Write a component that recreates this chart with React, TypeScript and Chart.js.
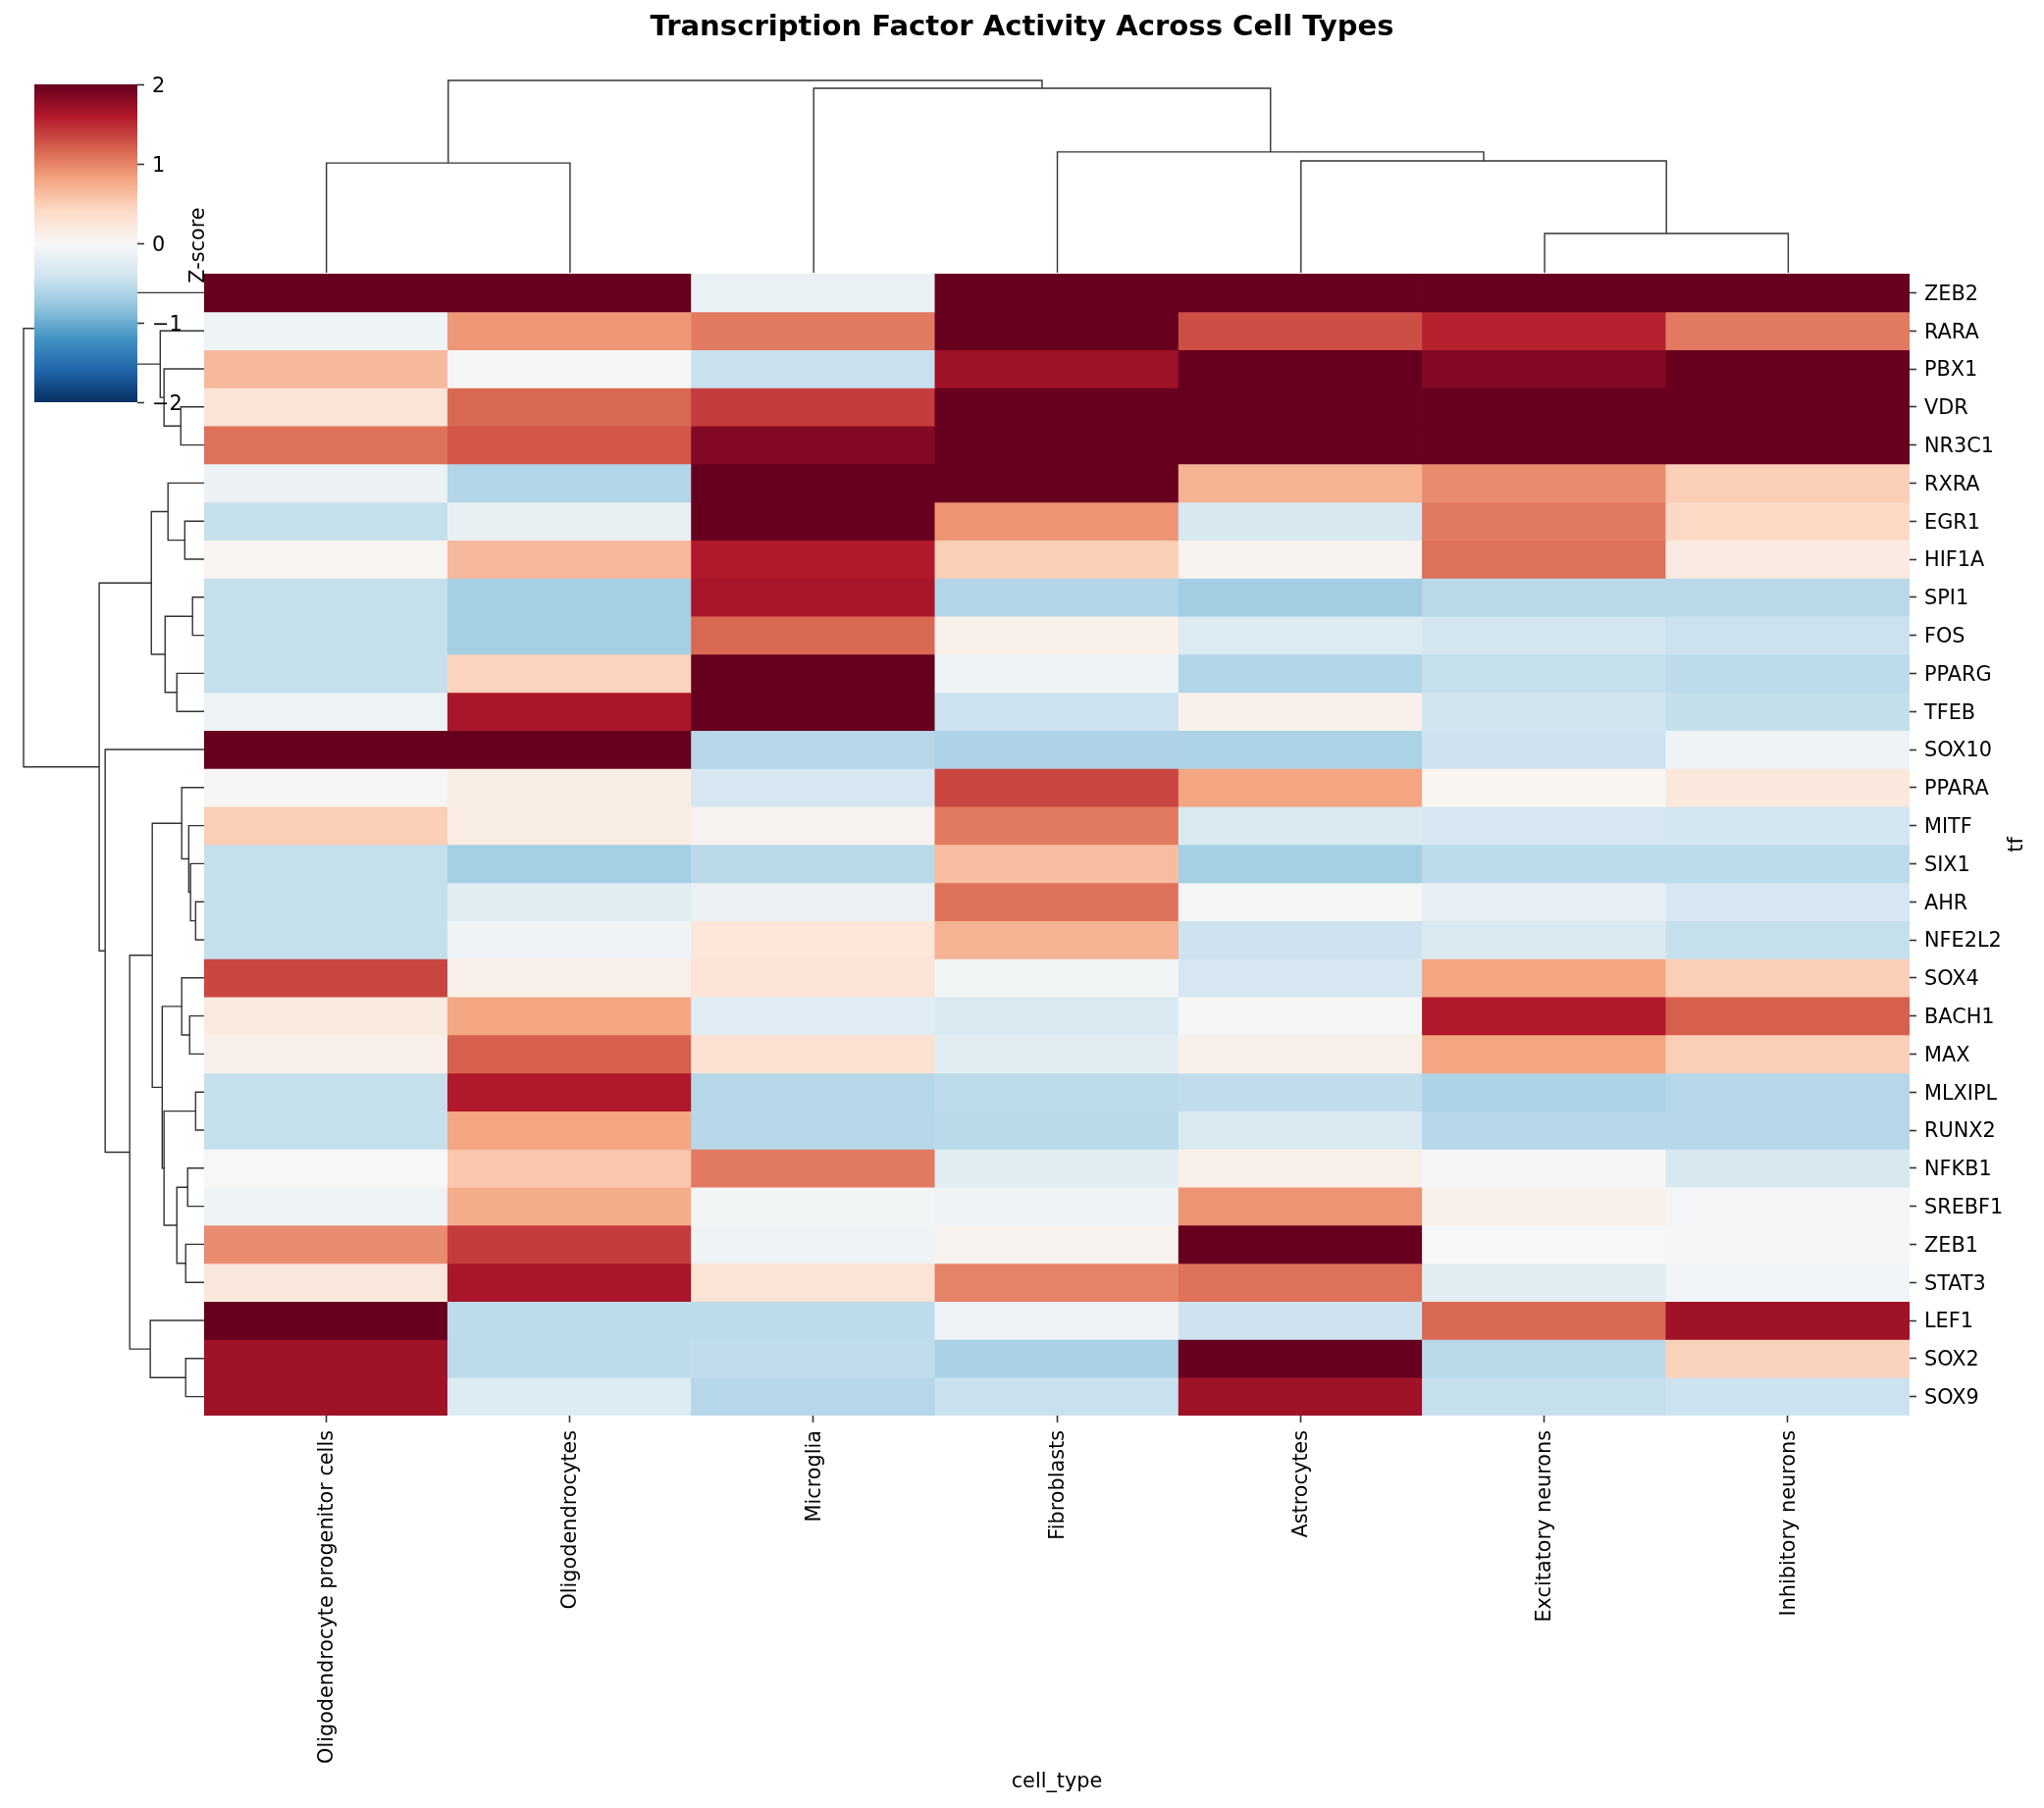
import { useEffect, useRef } from 'react';
import { Chart, registerables } from 'chart.js';

Chart.register(...registerables);
Chart.defaults.font.family = "'DejaVu Sans'";
Chart.defaults.color = '#000000';

const WIDTH = 2083;
const HEIGHT = 1843;
const TEXT_SIZE = 20.8;
const LINE_COLOR = '#333333';

const cellTypes = [
  'Oligodendrocyte progenitor cells',
  'Oligodendrocytes',
  'Microglia',
  'Fibroblasts',
  'Astrocytes',
  'Excitatory neurons',
  'Inhibitory neurons',
];

const tfs = [
  'ZEB2', 'RARA', 'PBX1', 'VDR', 'NR3C1', 'RXRA', 'EGR1', 'HIF1A', 'SPI1', 'FOS',
  'PPARG', 'TFEB', 'SOX10', 'PPARA', 'MITF', 'SIX1', 'AHR', 'NFE2L2', 'SOX4', 'BACH1',
  'MAX', 'MLXIPL', 'RUNX2', 'NFKB1', 'SREBF1', 'ZEB1', 'STAT3', 'LEF1', 'SOX2', 'SOX9',
];

// one row per tf, same order as cellTypes
const zScores = [
  [2, 2, -0.14, 2, 2, 2, 2],
  [-0.1, 0.88, 1.05, 2, 1.3, 1.55, 1.05],
  [0.65, -0.03, -0.45, 1.7, 2, 1.85, 2],
  [0.27, 1.15, 1.4, 2, 2, 2, 2],
  [1.1, 1.25, 1.85, 2, 2, 2, 2],
  [-0.13, -0.6, 2, 2, 0.7, 0.95, 0.5],
  [-0.47, -0.15, 2, 0.9, -0.33, 1.05, 0.42],
  [0.04, 0.65, 1.6, 0.5, 0.06, 1.1, 0.18],
  [-0.47, -0.68, 1.65, -0.6, -0.7, -0.55, -0.55],
  [-0.47, -0.68, 1.15, 0.12, -0.28, -0.38, -0.43],
  [-0.47, 0.45, 2, -0.1, -0.6, -0.47, -0.52],
  [-0.12, 1.65, 2, -0.43, 0.1, -0.4, -0.48],
  [2, 2, -0.58, -0.62, -0.64, -0.42, -0.1],
  [0.03, 0.15, -0.35, 1.35, 0.8, 0.05, 0.22],
  [0.5, 0.15, 0.06, 1.05, -0.32, -0.35, -0.37],
  [-0.47, -0.68, -0.55, 0.62, -0.68, -0.52, -0.52],
  [-0.47, -0.22, -0.13, 1.1, -0.03, -0.17, -0.35],
  [-0.47, -0.08, 0.25, 0.7, -0.42, -0.3, -0.47],
  [1.35, 0.12, 0.27, -0.05, -0.35, 0.8, 0.5],
  [0.2, 0.8, -0.25, -0.3, -0.03, 1.6, 1.2],
  [0.1, 1.2, 0.3, -0.22, 0.12, 0.8, 0.5],
  [-0.47, 1.6, -0.58, -0.52, -0.5, -0.63, -0.57],
  [-0.47, 0.8, -0.58, -0.55, -0.32, -0.58, -0.57],
  [0, 0.55, 1.05, -0.22, 0.12, -0.03, -0.33],
  [-0.1, 0.75, -0.05, -0.08, 0.9, 0.1, -0.04],
  [0.95, 1.4, -0.08, 0.07, 2, -0.01, -0.02],
  [0.23, 1.65, 0.28, 1, 1.1, -0.23, -0.07],
  [2, -0.52, -0.52, -0.08, -0.42, 1.15, 1.7],
  [1.7, -0.52, -0.5, -0.65, 2, -0.55, 0.47],
  [1.7, -0.27, -0.58, -0.45, 1.7, -0.47, -0.43],
];

// linkage tables: [left child, right child, height], ids past the leaves are earlier merges
const rowMerges = [
  [16, 17, 0.047], [15, 30, 0.075], [14, 31, 0.085], [13, 32, 0.124], [19, 20, 0.08],
  [18, 34, 0.124], [21, 22, 0.047], [23, 24, 0.091], [25, 26, 0.102], [37, 38, 0.151],
  [36, 39, 0.222], [35, 40, 0.232], [33, 41, 0.287], [28, 29, 0.102], [27, 43, 0.298],
  [42, 44, 0.412], [12, 45, 0.548], [6, 7, 0.107], [5, 47, 0.2], [8, 9, 0.064],
  [10, 11, 0.151], [49, 50, 0.216], [48, 51, 0.292], [52, 46, 0.581], [3, 4, 0.129],
  [2, 54, 0.222], [1, 55, 0.243], [0, 56, 0.588], [57, 53, 1],
];

const colMerges = [
  [5, 6, 0.204], [4, 7, 0.582], [3, 8, 0.628], [2, 9, 0.959], [0, 1, 0.571], [11, 10, 1],
];

const colorbarTicks = [-2, -1, 0, 1, 2];
const rdBuR = ['#053061', '#2166ac', '#4393c3', '#92c5de', '#d1e5f0', '#f7f7f7', '#fddbc7', '#f4a582', '#d6604d', '#b2182b', '#67001f'];

function zColor(z: number) {
  const t = (Math.max(-2, Math.min(2, z)) + 2) / 4 * (rdBuR.length - 1);
  const i = Math.min(Math.floor(t), rdBuR.length - 2);
  const f = t - i;
  const rgb = [1, 3, 5].map(k => {
    const a = parseInt(rdBuR[i].slice(k, k + 2), 16);
    const b = parseInt(rdBuR[i + 1].slice(k, k + 2), 16);
    return Math.round(a + (b - a) * f);
  });
  return `rgb(${rgb.join(',')})`;
}

// turn a linkage table into one U shaped line per merge
function dendrogram(merges: number[][], leaves: number, horizontal: boolean) {
  const pos: number[] = [];
  const height: number[] = [];
  for (let i = 0; i < leaves; i++) {
    pos.push(i + 0.5);
    height.push(0);
  }
  return merges.map(([a, b, h]) => {
    const path = [[height[a], pos[a]], [h, pos[a]], [h, pos[b]], [height[b], pos[b]]];
    pos.push((pos[a] + pos[b]) / 2);
    height.push(h);
    return {
      data: path.map(([d, p]) => (horizontal ? { x: d, y: p } : { x: p, y: d })),
      showLine: true,
      borderColor: LINE_COLOR,
      borderWidth: 1.4,
      pointRadius: 0,
      tension: 0,
      clip: false as const,
    };
  });
}

// rotated axis captions, the ones chart.js would turn the other way
const sideLabel = (text: string, x: number, y: number, baseline: CanvasTextBaseline) => ({
  id: 'sideLabel',
  afterDraw(chart: Chart) {
    const { ctx } = chart;
    ctx.save();
    ctx.translate(x, y);
    ctx.rotate(-Math.PI / 2);
    ctx.font = `${TEXT_SIZE}px 'DejaVu Sans'`;
    ctx.fillStyle = '#000000';
    ctx.textAlign = 'center';
    ctx.textBaseline = baseline;
    ctx.fillText(text, 0, 0);
    ctx.restore();
  },
});

const common = {
  responsive: false,
  devicePixelRatio: 1,
  animation: false as const,
  events: [],
};
const noLegend = { legend: { display: false }, tooltip: { enabled: false } };
const tickGrid = { drawOnChartArea: false, tickLength: 7, tickWidth: 1.6, color: LINE_COLOR };

const heatmapConfig: any = {
  type: 'bar',
  data: {
    labels: cellTypes,
    datasets: tfs.map((_, r) => ({
      data: cellTypes.map(() => [r, r + 1]),
      backgroundColor: zScores[r].map(zColor),
      borderWidth: 0,
      barPercentage: 1,
      categoryPercentage: 1,
    })),
  },
  options: {
    ...common,
    layout: { autoPadding: false },
    plugins: {
      ...noLegend,
      title: {
        display: true,
        text: 'Transcription Factor Activity Across Cell Types',
        font: { size: 29.1, weight: 'bold', lineHeight: 1.2 },
        color: '#000000',
        padding: { top: 11, bottom: 233.1 },
      },
    },
    scales: {
      x: {
        type: 'category',
        stacked: true,
        grid: { ...tickGrid, offset: false },
        border: { display: false },
        ticks: { minRotation: 90, maxRotation: 90, autoSkip: false, padding: 8, labelOffset: 1.5, font: { size: TEXT_SIZE } },
        title: { display: true, text: 'cell_type', font: { size: TEXT_SIZE }, padding: { top: 0, bottom: 13.5 } },
        afterFit: (s: any) => { s.height = 400; },
      },
      y: {
        type: 'linear',
        position: 'right',
        reverse: true,
        min: 0,
        max: 30,
        stacked: false,
        grid: tickGrid,
        border: { display: false },
        ticks: { autoSkip: false, padding: 8, labelOffset: 2, font: { size: TEXT_SIZE }, callback: (_v: any, i: number) => tfs[i] },
        afterBuildTicks: (s: any) => { s.ticks = tfs.map((_, i) => ({ value: i + 0.5 })); },
        afterFit: (s: any) => { s.width = 137; },
      },
      // empty left gutter so the title stays centred on the whole figure
      gutter: {
        type: 'linear',
        axis: 'y',
        position: 'left',
        grid: { display: false },
        border: { display: false },
        ticks: { display: false },
        afterFit: (s: any) => { s.width = 208; },
      },
    },
  },
  plugins: [sideLabel('tf', 2056, 861, 'middle')],
};

const colDendroConfig: any = {
  type: 'scatter',
  data: { datasets: dendrogram(colMerges, cellTypes.length, false) },
  options: {
    ...common,
    layout: { autoPadding: false, padding: { left: 208.5, right: 136.5, top: 82, bottom: HEIGHT - 278 } },
    plugins: noLegend,
    scales: {
      x: { type: 'linear', min: 0, max: cellTypes.length, display: false },
      y: { type: 'linear', min: 0, max: 1, display: false },
    },
  },
};

const rowDendroConfig: any = {
  type: 'scatter',
  data: { datasets: dendrogram(rowMerges, tfs.length, true) },
  options: {
    ...common,
    layout: { autoPadding: false, padding: { left: 24, right: WIDTH - 208, top: 279, bottom: 400 } },
    plugins: noLegend,
    scales: {
      x: { type: 'linear', min: 0, max: 1, reverse: true, display: false },
      y: { type: 'linear', min: 0, max: tfs.length, reverse: true, display: false },
    },
  },
};

const colorbarConfig: any = {
  type: 'bar',
  data: {
    labels: ['Z-score'],
    datasets: [{
      data: [[-2, 2]],
      borderWidth: 0,
      barPercentage: 1,
      categoryPercentage: 1,
      backgroundColor: (c: any) => {
        const area = c.chart.chartArea;
        if (!area) return rdBuR[5];
        const g = c.chart.ctx.createLinearGradient(0, area.bottom, 0, area.top);
        rdBuR.forEach((col, i) => g.addColorStop(i / (rdBuR.length - 1), col));
        return g;
      },
    }],
  },
  options: {
    ...common,
    layout: { autoPadding: false, padding: { left: 35, top: 86, bottom: HEIGHT - 410 } },
    plugins: noLegend,
    scales: {
      x: { type: 'category', display: false },
      y: {
        type: 'linear',
        position: 'right',
        min: -2,
        max: 2,
        grid: tickGrid,
        border: { display: false },
        ticks: {
          padding: 8,
          labelOffset: 3,
          font: { size: TEXT_SIZE },
          callback: (v: number) => (v < 0 ? `\u2212${-v}` : `${v}`),
        },
        afterBuildTicks: (s: any) => { s.ticks = colorbarTicks.map(value => ({ value })); },
        afterFit: (s: any) => { s.width = WIDTH - 140; },
      },
    },
  },
  plugins: [sideLabel('Z-score', 208, 250, 'alphabetic')],
};

function Panel({ config }: { config: any }) {
  const canvasRef = useRef<HTMLCanvasElement>(null);

  useEffect(() => {
    if (!canvasRef.current) return;
    const chart = new Chart(canvasRef.current, config);
    return () => chart.destroy();
  }, [config]);

  return (
    <canvas
      ref={canvasRef}
      width={WIDTH}
      height={HEIGHT}
      style={{ position: 'absolute', left: 0, top: 0, width: WIDTH, height: HEIGHT }}
    />
  );
}

export default function App() {
  useEffect(() => {
    document.body.style.margin = '0';
    document.body.style.background = '#ffffff';
  }, []);

  // same stacking as the figure: colour bar sits over the row tree
  return (
    <div style={{ position: 'relative', width: WIDTH, height: HEIGHT, overflow: 'hidden' }}>
      <Panel config={colDendroConfig} />
      <Panel config={rowDendroConfig} />
      <Panel config={heatmapConfig} />
      <Panel config={colorbarConfig} />
    </div>
  );
}
